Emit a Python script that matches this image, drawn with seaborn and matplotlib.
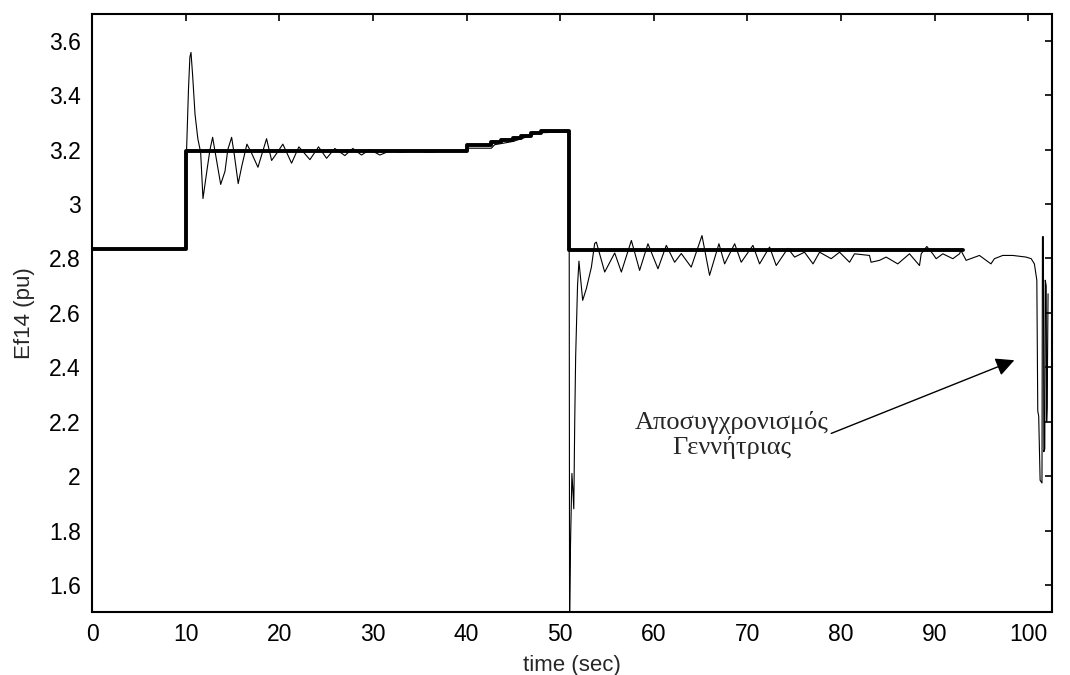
import numpy as np
import pandas as pd
import matplotlib
matplotlib.use('Agg')
import matplotlib.pyplot as plt
import seaborn as sns

# reference (setpoint) staircase
ref_time = [0, 10, 40, 42.65, 43.7, 44.97, 45.86, 46.9, 48.0, 50.9, 93.0]
ref_ef = [2.835, 3.195, 3.215, 3.227, 3.236, 3.243, 3.251, 3.261, 3.267, 2.83, 2.83]

# simulated response, read off peaks and troughs
resp_time = [0.0, 10.0, 10.1, 10.3, 10.45, 10.57, 10.75, 11.0, 11.3, 11.6,
             11.85, 12.3, 12.6, 12.88, 13.2, 13.74, 14.2, 14.5, 14.91, 15.2,
             15.61, 16.0, 16.54, 17.0, 17.72, 18.2, 18.64, 19.18, 19.8, 20.38,
             21.31, 22.09, 23.27, 24.19, 25.05, 25.93, 27.0, 27.85, 28.78, 29.67,
             30.74, 31.8, 33.0, 34.5, 36.0, 37.5, 39.8, 40.1, 42.65, 43.0,
             43.7, 44.97, 45.4, 45.86, 46.9, 47.3, 48.0, 50.95, 51.0, 51.1,
             51.25, 51.35, 51.45, 51.55, 51.65, 51.85, 52.0, 52.4, 52.8, 53.33,
             53.68, 53.86, 54.75, 55.82, 56.53, 57.6, 58.48, 59.37, 60.44, 61.33,
             62.22, 62.93, 63.99, 65.14, 65.95, 66.95, 67.56, 68.63, 69.33, 70.58,
             71.29, 72.36, 73.07, 74.31, 75.03, 76.09, 77.0, 77.7, 78.94, 79.83,
             80.9, 81.43, 83.03, 83.2, 84.1, 84.81, 86.05, 87.3, 88.37, 88.55,
             89.15, 89.79, 90.15, 90.86, 91.93, 92.64, 92.8, 93.35, 94.77, 96.0,
             96.37, 97.26, 98.33, 99.75, 100.3, 100.64, 100.9, 101.0, 101.1, 101.25,
             101.45, 101.5, 101.6, 101.65, 101.75, 101.8, 101.9, 101.95, 102.0, 102.1]
resp_ef = [2.835, 2.835, 3.20, 3.42, 3.54, 3.557, 3.47, 3.33, 3.24, 3.19,
           3.02, 3.13, 3.20, 3.245, 3.18, 3.072, 3.12, 3.20, 3.245, 3.18,
           3.075, 3.14, 3.22, 3.19, 3.135, 3.19, 3.24, 3.16, 3.19, 3.22,
           3.15, 3.21, 3.163, 3.21, 3.168, 3.204, 3.178, 3.204, 3.18, 3.20,
           3.18, 3.195, 3.19, 3.195, 3.19, 3.195, 3.195, 3.205, 3.205, 3.218,
           3.222, 3.23, 3.235, 3.24, 3.252, 3.258, 3.262, 3.265, 1.45, 1.75,
           2.01, 1.95, 1.88, 2.2, 2.44, 2.70, 2.79, 2.646, 2.69, 2.768,
           2.855, 2.86, 2.75, 2.82, 2.75, 2.866, 2.756, 2.854, 2.762, 2.848,
           2.786, 2.818, 2.768, 2.884, 2.738, 2.854, 2.78, 2.854, 2.786, 2.848,
           2.78, 2.842, 2.774, 2.837, 2.805, 2.823, 2.78, 2.823, 2.799, 2.823,
           2.786, 2.817, 2.811, 2.786, 2.793, 2.805, 2.78, 2.817, 2.774, 2.817,
           2.844, 2.817, 2.799, 2.817, 2.799, 2.817, 2.829, 2.793, 2.811, 2.78,
           2.799, 2.811, 2.811, 2.805, 2.799, 2.78, 2.72, 2.24, 2.22, 1.985,
           1.975, 2.88, 2.88, 2.09, 2.10, 2.72, 2.70, 2.20, 2.25, 2.67]

x_ticks = list(range(0, 101, 10))
y_ticks = [1.6, 1.8, 2.0, 2.2, 2.4, 2.6, 2.8, 3.0, 3.2, 3.4, 3.6]
y_tick_labels = ['1.6', '1.8', '2', '2.2', '2.4', '2.6', '2.8', '3', '3.2', '3.4', '3.6']

sns.set_style('white')
plt.rcParams['font.family'] = ['Liberation Sans', 'DejaVu Sans']

fig = plt.figure(figsize=(10.7, 6.75), dpi=100)
ax = fig.add_axes([0.086, 0.093, 0.897, 0.887])

ref_df = pd.DataFrame({'time': ref_time, 'ef': ref_ef})
resp_df = pd.DataFrame({'time': resp_time, 'ef': resp_ef})

# thin response line
sns.lineplot(data=resp_df, x='time', y='ef', ax=ax, color='black', linewidth=0.8,
             estimator=None, sort=False)
# thick staircase reference
sns.lineplot(data=ref_df, x='time', y='ef', ax=ax, color='black', linewidth=2.8,
             estimator=None, sort=False, drawstyle='steps-post')

ax.set_xlim(0, 102.5)
ax.set_ylim(1.5, 3.7)
ax.set_xticks(x_ticks)
ax.set_xticklabels([str(t) for t in x_ticks])
ax.set_yticks(y_ticks)
ax.set_yticklabels(y_tick_labels)
ax.tick_params(direction='in', length=5, width=1.2, labelsize=16.5, colors='black',
               top=True, right=True, pad=8)
for sp in ax.spines.values():
    sp.set_linewidth(1.5)
    sp.set_color('black')

ax.set_xlabel('time (sec)', fontsize=16, labelpad=6)
ax.set_ylabel('Ef14 (pu)', fontsize=16, labelpad=10)

# annotation for loss of synchronism
ax.text(68.3, 2.15, 'Αποσυγχρονισμός\nΓεννήτριας', ha='center', va='center',
        family=['Liberation Serif', 'DejaVu Serif'], fontsize=19, linespacing=1.12)
ax.annotate('', xy=(98.5, 2.426), xytext=(78.94, 2.157),
            arrowprops=dict(arrowstyle='-|>', color='black', lw=1.0,
                            mutation_scale=28, shrinkA=0, shrinkB=0))

fig.savefig('out.png', dpi=100)
